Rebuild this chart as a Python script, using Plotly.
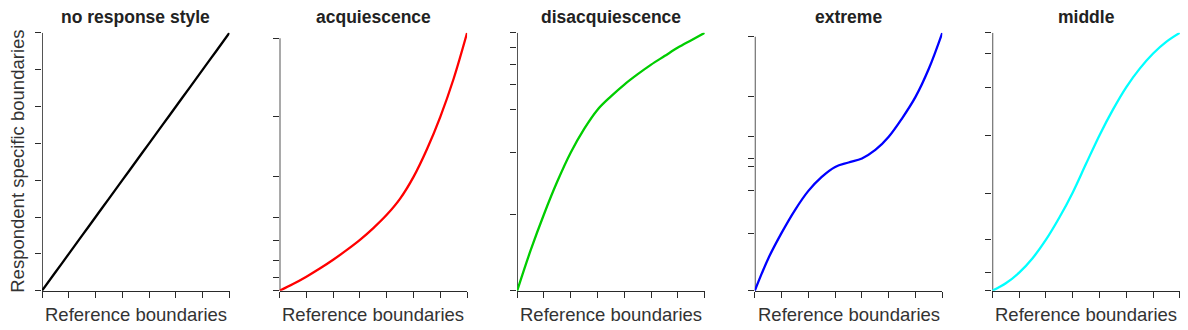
import plotly.graph_objects as go

# ---------------- data ----------------
titles = ["no response style", "acquiescence", "disacquiescence", "extreme", "middle"]
line_colors = ["#000000", "#FF0000", "#00CD00", "#0000FF", "#00FFFF"]

ref_boundaries = [0, 1, 2, 3, 4, 5, 6, 7]
curve_x = [0, 0.5, 1, 1.5, 2, 2.5, 3, 3.5, 4, 4.5, 5, 5.5, 6, 6.5, 7]

# respondent specific boundaries (y tick positions) per response style
bounds_none = [0, 1, 2, 3, 4, 5, 6, 7]
bounds_acq = [0, 0.36, 0.81, 1.36, 1.99, 3.09, 4.72, 6.85]
bounds_dis = [0, 2.07, 3.74, 4.90, 5.58, 6.12, 6.58, 6.98]
bounds_ext = [0, 1.56, 2.71, 3.36, 3.59, 4.18, 5.26, 6.89]
bounds_mid = [0, 0.49, 1.38, 2.64, 4.21, 5.51, 6.42, 6.98]

# mapping curves (values at curve_x)
curve_none = [0, 0.5, 1, 1.5, 2, 2.5, 3, 3.5, 4, 4.5, 5, 5.5, 6, 6.5, 7]
curve_acq = [0, 0.18, 0.38, 0.60, 0.84, 1.10, 1.38, 1.70, 2.06, 2.50, 3.09, 3.84, 4.72, 5.76, 7.00]
curve_dis = [0, 1.09, 2.07, 2.96, 3.74, 4.38, 4.90, 5.26, 5.58, 5.86, 6.12, 6.35, 6.58, 6.78, 6.98]
curve_ext = [0, 0.87, 1.57, 2.19, 2.71, 3.09, 3.36, 3.48, 3.59, 3.82, 4.18, 4.68, 5.26, 6.03, 7.00]
curve_mid = [0, 0.20, 0.49, 0.88, 1.38, 1.98, 2.66, 3.44, 4.21, 4.90, 5.51, 6.01, 6.42, 6.74, 6.98]

x_label = "Reference boundaries"
y_label = "Respondent specific boundaries"

bounds = [bounds_none, bounds_acq, bounds_dis, bounds_ext, bounds_mid]
curves = [curve_none, curve_acq, curve_dis, curve_ext, curve_mid]

# ---------------- layout geometry ----------------
W, H = 1188, 330
left0, pw, step = 42.0, 187.5, 237.6
top_px, bot_px = 32.8, 290.7
FONT = "Liberation Sans, Arial, sans-serif"
AX_COL = "#2a2a2a"

fig = go.Figure()
layout = dict(
    width=W, height=H,
    margin=dict(l=0, r=0, t=0, b=0),
    paper_bgcolor="white", plot_bgcolor="white",
    showlegend=False,
    annotations=[],
)

for i in range(5):
    sfx = "" if i == 0 else str(i + 1)
    xa, ya = "x" + sfx, "y" + sfx
    x0 = (left0 + i * step) / W
    x1 = (left0 + i * step + pw) / W
    # y axis line spanning first to last boundary (R style)
    fig.add_trace(go.Scatter(
        x=[ref_boundaries[0], ref_boundaries[0]], y=[bounds[i][0], bounds[i][-1]],
        mode="lines", line=dict(color=AX_COL, width=1.6),
        xaxis=xa, yaxis=ya, cliponaxis=False, hoverinfo="skip",
    ))
    fig.add_trace(go.Scatter(
        x=curve_x, y=curves[i], mode="lines",
        line=dict(color=line_colors[i], width=2.3, shape="spline", smoothing=1.0),
        xaxis=xa, yaxis=ya, cliponaxis=False, hoverinfo="skip",
    ))
    layout["xaxis" + sfx] = dict(
        domain=[x0, x1], range=[ref_boundaries[0], ref_boundaries[-1]],
        anchor=ya, showgrid=False, zeroline=False,
        showline=True, linecolor=AX_COL, linewidth=1.3,
        ticks="outside", ticklen=6, tickwidth=1.3, tickcolor=AX_COL,
        tickmode="array", tickvals=ref_boundaries, showticklabels=False,
        fixedrange=True,
    )
    layout["yaxis" + sfx] = dict(
        domain=[1 - bot_px / H, 1 - top_px / H],
        range=[0, max(curves[i])],
        anchor=xa, showgrid=False, zeroline=False, showline=False,
        ticks="outside", ticklen=6, tickwidth=1.3, tickcolor=AX_COL,
        tickmode="array", tickvals=bounds[i], showticklabels=False,
        fixedrange=True,
    )
    xc = (x0 + x1) / 2
    layout["annotations"].append(dict(
        text="<b>" + titles[i] + "</b>", x=xc, y=1 - 16.7 / H,
        xref="paper", yref="paper", xanchor="center", yanchor="middle",
        showarrow=False, font=dict(family=FONT, size=17.5, color="#222222"),
    ))
    layout["annotations"].append(dict(
        text=x_label, x=xc, y=1 - 314 / H,
        xref="paper", yref="paper", xanchor="center", yanchor="middle",
        showarrow=False, font=dict(family=FONT, size=18.5, color="#333333"),
    ))

layout["annotations"].append(dict(
    text=y_label, x=18 / W, y=1 - ((top_px + bot_px) / 2) / H,
    xref="paper", yref="paper", xanchor="center", yanchor="middle",
    textangle=-90, showarrow=False,
    font=dict(family=FONT, size=18.5, color="#333333"),
))

fig.update_layout(**layout)
fig.write_html("out.html")
